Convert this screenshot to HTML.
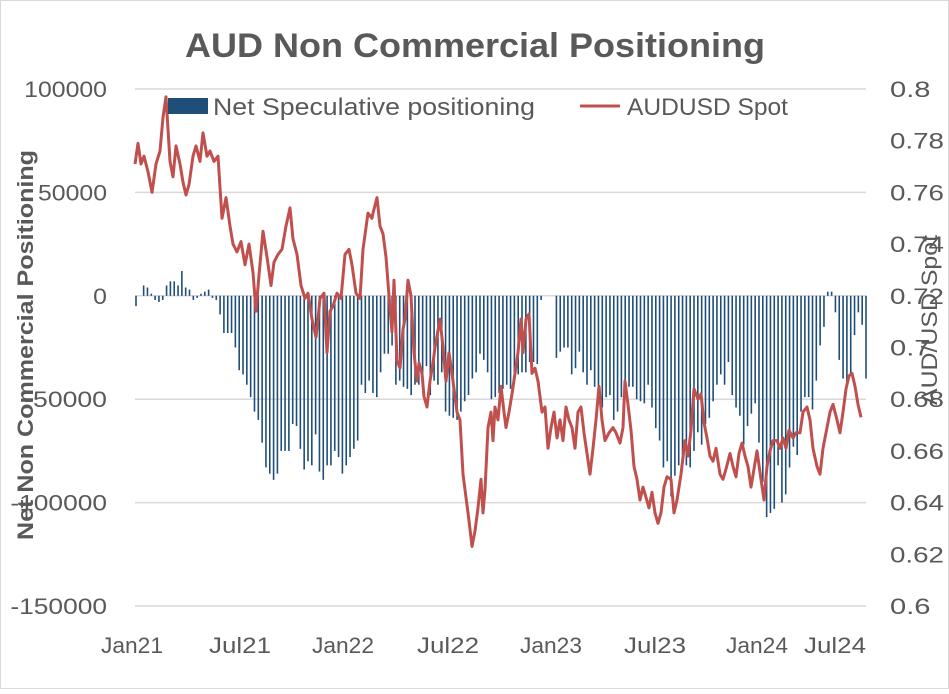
<!DOCTYPE html>
<html><head><meta charset="utf-8"><style>
body{margin:0;background:#fff;}
svg text{font-family:"Liberation Sans",sans-serif;fill:#595959;}
</style></head><body>
<svg id="c" width="949" height="689" viewBox="0 0 949 689" xmlns="http://www.w3.org/2000/svg">
<rect x="0.5" y="0.5" width="948" height="688" fill="#fff" stroke="#d9d9d9"/>
<text x="475" y="57" text-anchor="middle" font-size="34" font-weight="bold" textLength="580" lengthAdjust="spacingAndGlyphs">AUD Non Commercial Positioning</text>
<g id="grid"></g><g id="bars"></g><g id="line"></g><g id="axes"></g>
<g>
<rect x="168" y="98" width="40" height="16" fill="#1f4e79"/>
<text x="213" y="115" font-size="24" textLength="322" lengthAdjust="spacingAndGlyphs">Net Speculative positioning</text>
<line x1="580" y1="106" x2="620" y2="106" stroke="#c0504d" stroke-width="3"/>
<text x="627" y="115" font-size="24" textLength="161" lengthAdjust="spacingAndGlyphs">AUDUSD Spot</text>
</g>
<text transform="translate(33,345) rotate(-90)" text-anchor="middle" font-size="22" font-weight="bold" textLength="390" lengthAdjust="spacingAndGlyphs">Net Non Commercial Positioning</text>
<text transform="translate(937,320) rotate(-90)" text-anchor="middle" font-size="22" textLength="170" lengthAdjust="spacingAndGlyphs">AUD/USD Spot</text>
</svg>
<script>
const leftTicks=[100000,50000,0,-50000,-100000,-150000];
const rightTicks=[0.8,0.78,0.76,0.74,0.72,0.7,0.68,0.66,0.64,0.62,0.6];
const xLabels=["Jan21","Jul21","Jan22","Jul22","Jan23","Jul23","Jan24","Jul24"];
const xLabelPos=[132,240,343,448,551,655,757,835];
const netPositioning=[-5,0,5,4,1,-2,-3,-2,5,7,7,5,12,4,3,-2,-1,1,2,3,-1,-2,
-9,-18,-18,-18,-25,-36,-38,-43,-49,-56,-60,-71,-83,-86,-89,-86,-75,-75,-75,-62,-63,-74,-84,-80,-82,-67,-85,-89,-82,-82,-75,-78,-86,-82,-78,-74,-70,-43,-47,
-41,-47,-49,-37,-28,-28,-24,-43,-41,-44,-45,-48,-43,-43,-40,-34,-48,-41,-43,-37,-56,-58,-59,-60,-56,-51,-48,-40,-37,-28,-31,-37,-50,-49,-47,-45,-43,-45,-40,-38,-37,-37,-32,-32,-33,-2,
0,0,0,
-30,-27,-25,-25,-38,-35,-27,-37,-43,-36,-44,-49,-54,-49,-48,-60,-56,
-49,-47,-44,-44,-50,-51,-52,-43,-54,-64,-70,-83,-80,-97,-87,-82,-77,-82,-83,-75,-66,-72,-62,-59,-51,-43,-38,-43,-32,-48,-54,-58,-72,-63,-57,-52,-71,-90,-107,-105,-103,-82,-100,-96,-83,-73,-77,-56,-49,-49,-55,-41,-24,-15,2,2,-8,-31,-40,-42,-38,-19,-8,-14,-40];
const spotWeek=[0,0.75,1.5,2.25,3.25,4.25,5.25,6.25,7,7.75,8.75,9.5,10.25,11.25,12,12.75,13.5,14.5,15.25,16.25,17,18,18.75,19.75,20.75,
21.75,22.75,23.75,24.5,25.5,26.5,27.5,28.5,29.5,30.25,31,32,33,34,34.75,35.75,36.75,37.75,38.75,39.5,40.5,41.5,42.5,43.25,44.25,45.25,45.75,46.25,47.25,48,48.75,49.5,50.5,51.5,52.5,53.5,54.25,55.25,56.25,57,58.25,59.25,
59.5,60.5,61.25,62,62.75,63.5,64.25,64.75,65.5,66.25,67,67.5,68.25,69,69.75,70.5,71,71.75,72.25,73,73.75,74.5,75,76.25,77,77.75,78.5,79.25,80,80.5,81.25,82,82.75,83.5,84.25,85,85.75,86.5,87,87.5,88.25,89,89.5,90,90.75,91.5,92.25,92.75,93.5,94.25,95,95.75,96.5,97,97.75,98.5,99.25,100,100.75,101.75,102.5,103.25,104,104.75,105.5,106.25,107,107.75,108.5,109.25,110,110.75,111.5,112.25,113,113.75,114.5,115.25,116,116.75,117.5,118.5,119.5,
120.25,121.25,122,122.5,123.25,124,124.75,125.5,126.25,127,127.75,128.5,129.25,130,130.75,131.5,132.25,133,134,134.75,135.5,136.5,137.5,138.25,139,139.75,140.75,141.5,142.25,143,143.75,144.5,145.25,146.25,147,147.75,148.75,149.5,150.25,151,151.75,152.5,153.25,154,154.75,155.5,156.5,157.25,158,158.75,159.5,160.5,161.25,162,162.75,163.5,164.5,165.25,166.25,167,168,168.75,169.5,170.5,171.25,172,173,173.75,174.5,175.5,176.25,177,177.75,178.5,179.25,180,180.75,181.5];
const spot=[.771,.779,.771,.774,.768,.760,.771,.776,.789,.797,.772,.766,.778,.771,.764,.759,.763,.774,.778,.772,.783,.774,.776,.772,.774,
.750,.758,.747,.740,.737,.741,.732,.740,.729,.714,.728,.745,.735,.724,.733,.736,.738,.747,.754,.742,.736,.724,.719,.721,.711,.704,.711,.719,.721,.698,.714,.716,.721,.719,.736,.738,.732,.721,.719,.738,.752,.750,
.752,.758,.747,.744,.735,.720,.706,.726,.695,.692,.707,.711,.726,.720,.698,.687,.694,.690,.681,.677,.687,.694,.700,.711,.700,.687,.698,.690,.681,.675,.672,.651,.642,.633,.623,.629,.638,.649,.636,.645,.669,.675,.664,.677,.672,.685,.675,.669,.675,.682,.690,.698,.711,.698,.711,.713,.690,.692,.687,.675,.677,.661,.669,.675,.665,.672,.664,.677,.672,.669,.661,.675,.677,.667,.659,.651,.661,.672,.685,.672,.664,.667,.669,
.667,.663,.669,.687,.678,.668,.654,.649,.641,.646,.642,.638,.644,.636,.632,.636,.646,.650,.649,.636,.641,.651,.664,.658,.668,.684,.680,.682,.671,.665,.658,.656,.661,.651,.649,.653,.659,.654,.650,.659,.663,.658,.654,.646,.653,.660,.649,.641,.654,.660,.664,.664,.661,.665,.661,.668,.665,.667,.667,.675,.677,.672,.661,.654,.651,.661,.669,.675,.678,.672,.667,.675,.684,.689,.690,.685,.678,.673];
const NS="http://www.w3.org/2000/svg";
const X0=135,X1=866,YT=89,YB=606;
function yL(v){return YT+(100000-v)/250000*(YB-YT);}
function yR(v){return YT+(0.8-v)/0.2*(YB-YT);}
function xW(w){return X0+w*4;}
function mk(tag,attrs,parent){const e=document.createElementNS(NS,tag);for(const k in attrs)e.setAttribute(k,attrs[k]);document.getElementById(parent).appendChild(e);return e;}
leftTicks.forEach(t=>{
 const g=mk('line',{x1:X0,x2:X1,y1:yL(t),y2:yL(t),stroke:'#d9d9d9','stroke-width':1.5},'grid');
 
 
 const s=String(t);
 const l=mk('text',{x:107,y:yL(t)+8,'text-anchor':'end','font-size':22,textLength:s.length*13.8,lengthAdjust:'spacingAndGlyphs'},'axes');
 l.textContent=s;
 
 
});
rightTicks.forEach(t=>{
 const s=String(t);
 const l=mk('text',{x:890,y:yR(t)+8,'font-size':22,textLength:s.length*13.5,lengthAdjust:'spacingAndGlyphs'},'axes');
 l.textContent=s;
 
 
});
xLabels.forEach((s,i)=>{
 const l=mk('text',{x:xLabelPos[i],y:653,'text-anchor':'middle','font-size':22,textLength:62,lengthAdjust:'spacingAndGlyphs'},'axes');
 l.textContent=s;
 
 
});
const nb=netPositioning.length;
netPositioning.forEach((v,i)=>{
 const x=X0+1+i*(X1-X0-1)/(nb-1);
 const y0=yL(0),y1=yL(v*1000);
 const b=mk('rect',{x:x-0.8,y:Math.min(y0,y1),width:1.6,height:Math.abs(y1-y0),fill:'#1f4e79'},'bars');
 
 
});
const n=Math.min(spot.length,spotWeek.length);
const pts=[];
for(let i=0;i<n;i++)pts.push(xW(spotWeek[i]).toFixed(1)+','+yR(spot[i]).toFixed(1));
const pl=mk('polyline',{points:pts.join(' '),fill:'none',stroke:'#c0504d','stroke-width':3,'stroke-linejoin':'round'},'line');


</script>
</body></html>
